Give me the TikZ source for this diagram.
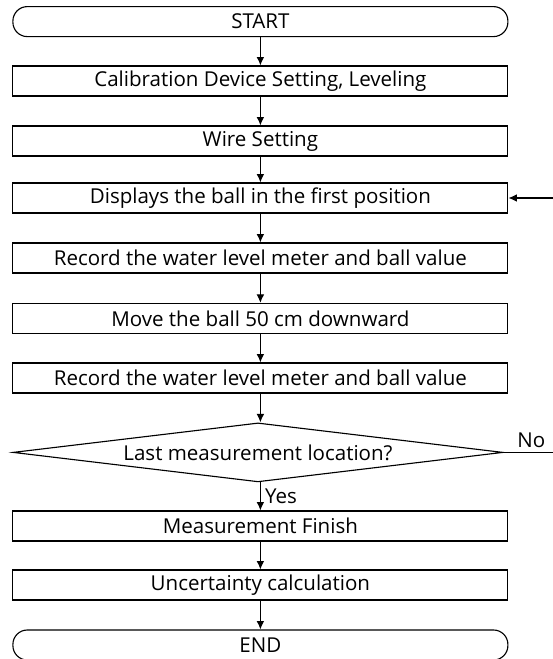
\documentclass[tikz,border=0pt]{standalone}
\usepackage{fontspec}
\setmainfont{Open Sans}
\usepackage{tikz}
\usetikzlibrary{shapes.geometric}
\usetikzlibrary{arrows.meta}

\begin{document}
\begin{tikzpicture}[>={Latex[length=6pt,width=5.5pt]}, line width=0.8pt,
    font=\fontsize{14.6}{17}\selectfont,
    stepbox/.style={draw, rectangle, inner sep=0pt,
      minimum width=12.375cm, minimum height=0.75cm},
    termbox/.style={stepbox, rounded corners=0.36cm},
    decbox/.style={draw, diamond, inner sep=0pt, aspect=8,
      minimum width=12.25cm, minimum height=1.475cm}]
      \useasboundingbox (0,0) rectangle (13.825,-16.475);

      \node (start) at (6.51,-0.54) [termbox] {START};
      \node (calib) at (6.51,-2.025) [stepbox]
      {Calibration Device Setting, Leveling};
      \node (wire) at (6.51,-3.525) [stepbox] {Wire Setting};
      \node (disp) at (6.51,-4.95) [stepbox]
      {Displays the ball in the first position};
      \node (rec1) at (6.51,-6.45) [stepbox]
      {Record the water level meter and ball value};
      \node (move) at (6.51,-7.96) [stepbox] {Move the ball 50 cm downward};
      \node (rec2) at (6.51,-9.45) [stepbox]
      {Record the water level meter and ball value};

      \node (dec) at (6.45,-11.31) [decbox] {Last measurement location?};

      \node (finish) at (6.51,-13.15) [stepbox] {Measurement Finish};
      \node (unc) at (6.51,-14.625) [stepbox] {Uncertainty calculation};
      \node (end) at (6.51,-16.125) [termbox] {END};

      \draw [->] (start) -- (calib);
      \draw [->] (calib) -- (wire);
      \draw [->] (wire) -- (disp);
      \draw [->] (disp) -- (rec1);
      \draw [->] (rec1) -- (move);
      \draw [->] (move) -- (rec2);
      \draw [->] (rec2.south) -- (rec2.south |- dec.north);
      \draw [->] (finish.north |- dec.south) -- node[right, pos=0.5, inner sep=3pt] {Yes} (finish.north);
      \draw [->] (finish) -- (unc);
      \draw [->] (unc) -- (end);

      % loop back, runs off the right edge
      \draw [->] (dec.east) -- node[above, pos=0.43, inner sep=3pt] {No} (14.2,-11.31)
        |- (disp.east);

\end{tikzpicture}
\end{document}
